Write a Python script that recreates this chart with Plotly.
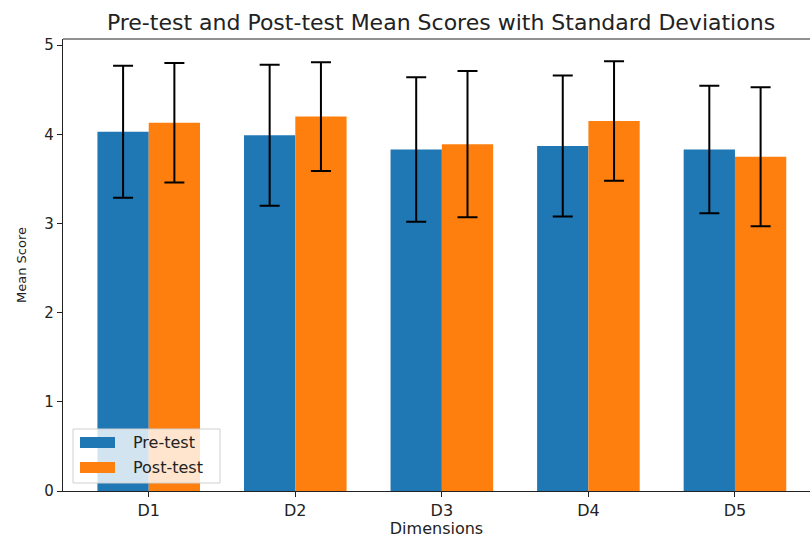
import plotly.graph_objects as go

categories = ["D1", "D2", "D3", "D4", "D5"]
series_names = ["Pre-test", "Post-test"]
pre_mean = [4.03, 3.99, 3.83, 3.87, 3.83]
pre_sd = [0.74, 0.79, 0.81, 0.79, 0.715]
post_mean = [4.13, 4.20, 3.89, 4.15, 3.75]
post_sd = [0.67, 0.61, 0.82, 0.67, 0.78]
colors = ["#1f77b4", "#ff7f0e"]

FONT = "DejaVu Sans"
err_style = dict(type="data", visible=True, color="black", thickness=2, width=10)

W, H = 810, 538
ML, MT, MB = 63, 39, 47
PW, PH = W - ML, H - MT - MB


def px(x):
    return (x - ML) / PW


def py(y):
    return (H - MB - y) / PH


fig = go.Figure()
for name, mean, sd, col in zip(series_names, [pre_mean, post_mean], [pre_sd, post_sd], colors):
    fig.add_trace(go.Bar(
        x=categories, y=mean, name=name, marker_color=col,
        marker_line_width=0, showlegend=False,
        error_y=dict(array=sd, **err_style),
    ))

fig.update_layout(
    width=W, height=H,
    margin=dict(l=ML, r=0, t=MT, b=MB, pad=0),
    paper_bgcolor="white", plot_bgcolor="white",
    barmode="group", bargap=0.3, bargroupgap=0,
    font=dict(family=FONT, size=15, color="#222"),
    title=dict(text="Pre-test and Post-test Mean Scores with Standard Deviations",
               x=441 / W, xanchor="center", y=1 - 22 / H, yanchor="middle",
               font=dict(size=22, color="#222")),
    xaxis=dict(
        type="category", range=[-0.585, 4.512],
        showline=True, linecolor="#222", linewidth=1.2, mirror=False,
        ticks="outside", ticklen=5, tickcolor="#222",
        tickfont=dict(size=16),
        showgrid=False, zeroline=False,
        title=dict(text="Dimensions", standoff=4, font=dict(size=16)),
    ),
    yaxis=dict(
        range=[0, 5.07],
        tickvals=[0, 1, 2, 3, 4, 5],
        showline=True, linecolor="#222", linewidth=1.2,
        ticks="outside", ticklen=5, tickcolor="#222",
        tickfont=dict(size=15),
        showgrid=False, zeroline=False,
        title=dict(text="Mean Score", standoff=14, font=dict(size=13)),
    ),
)
# top spine
fig.add_shape(type="line", xref="paper", yref="paper", x0=0, x1=1, y0=1, y1=1,
              line=dict(color="#222", width=1.2))

# matplotlib-style legend box (upper-left at pixel 73,429; lower-right 220,483)
fig.add_shape(type="rect", xref="paper", yref="paper",
              x0=px(73), x1=px(220), y0=py(483), y1=py(429),
              fillcolor="rgba(255,255,255,0.8)", line=dict(color="#d0d0d0", width=1),
              layer="above")
for i, (name, col) in enumerate(zip(series_names, colors)):
    top = 437 + i * 25
    fig.add_shape(type="rect", xref="paper", yref="paper",
                  x0=px(80), x1=px(115), y0=py(top + 11), y1=py(top),
                  fillcolor=col, line=dict(width=0), layer="above")
    fig.add_annotation(xref="paper", yref="paper", x=px(131), y=py(top + 5.5),
                       text=name, showarrow=False, xanchor="left", yanchor="middle",
                       font=dict(size=16, color="#222"))

fig.write_html("out.html", config={"displayModeBar": False},
               post_script="document.body.style.margin='0px';document.body.style.overflow='hidden';")
